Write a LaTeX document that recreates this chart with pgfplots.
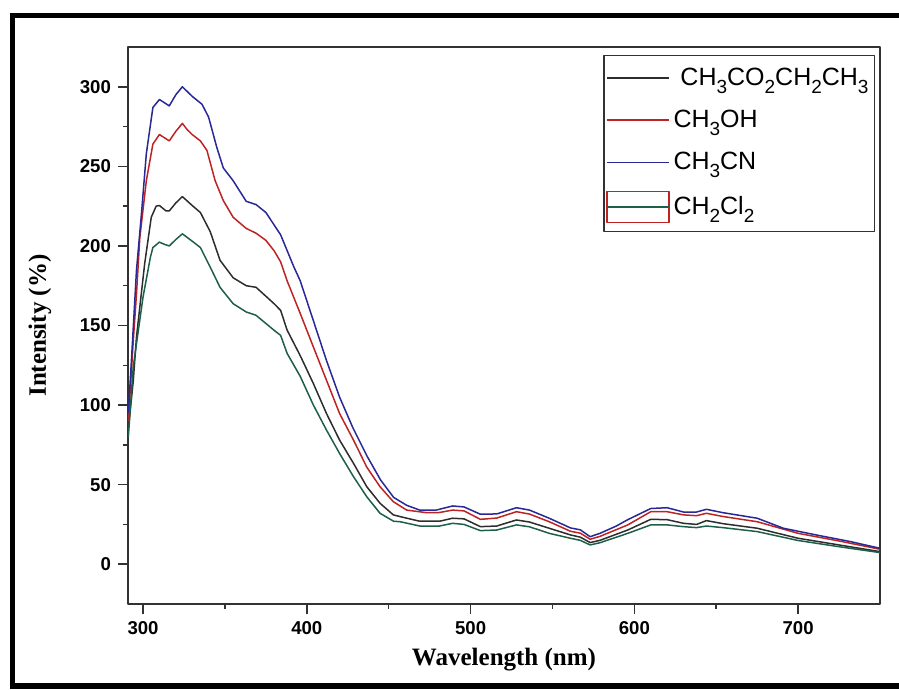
\documentclass[border=0pt]{standalone}
\usepackage{pgfplots}
\pgfplotsset{compat=1.18}
\usepackage{fontspec}
\setmainfont{Liberation Serif}
\newfontfamily\arial{Liberation Sans}
\definecolor{cblue}{RGB}{40,40,150}
\definecolor{cred}{RGB}{190,35,35}
\definecolor{cblack}{RGB}{45,45,45}
\definecolor{cgreen}{RGB}{30,95,75}
\definecolor{axgray}{RGB}{50,50,50}
\newcommand\sub[1]{\raisebox{-4pt}{\fontsize{9.5}{10}\selectfont #1}}
\pgfplotsset{boxlegend/.style={legend image code/.code={\draw[cred, line width=0.75pt] (0pt,-7.75pt) rectangle (31pt,7.75pt); \draw[##1] (0pt,0pt) -- (31pt,0pt);}}}
\begin{document}
\begin{tikzpicture}[x=0.5pt,y=0.5pt]
\useasboundingbox (-128,-86) rectangle (771,604);
\begin{axis}[
  at={(0,0)}, anchor=south west,
  scale only axis, width=376pt, height=278.5pt,
  xmin=290.8, xmax=750, ymin=-25, ymax=325,
  xtick={300,400,500,600,700},
  ytick={0,50,100,150,200,250,300},
  minor x tick num=1, minor y tick num=1,
  tick pos=left, tick align=outside,
  major tick length=5pt, minor tick length=2.5pt,
  every tick/.style={axgray, line width=0.75pt},
  axis line style={axgray, line width=0.75pt},
  tick label style={font=\arial\bfseries\fontsize{9.3}{11}\selectfont},
  /pgf/number format/assume math mode=true,
  xlabel={\textbf{Wavelength (nm)}},
  ylabel={\textbf{Intensity (\%)}},
  label style={font=\fontsize{12.5}{15}\selectfont},
  xlabel style={at={(axis description cs:0.5,-0.1005)}, anchor=center},
  ylabel style={at={(axis description cs:-0.117,0.5)}, anchor=center},
  legend style={at={(axis description cs:0.632,0.986)}, anchor=north west,
    draw=axgray, line width=0.75pt, inner xsep=1pt, inner ysep=4pt,
    row sep=7pt, font=\arial\fontsize{12.5}{15}\selectfont},
  legend cell align=left,
  legend image code/.code={\draw[#1] (0pt,0pt) -- (31pt,0pt);},
  line join=round,
]
\addplot[cblack, line width=0.75pt] coordinates {
(291,85) (294,115) (296,143) (301,189) (305,218) (308,225) (310,225.4) (314,222) (316,222) (320,227) (324,231) (330,225.4) (335,221) (341,209) (347,191) (355,180) (363,175) (369,174) (380,163.7) (384,159.5) (388,147) (396,131) (404,113.5) (412,94.7) (420,78) (428.5,63.4) (436.6,48.7) (444.7,38.3) (452.8,31) (457,29.9) (469,27) (481,27) (489,28.9) (496,28.5) (506,23.6) (516,24) (528,27.8) (536,26.5) (548,22.6) (561,18.4) (567,17) (573,13.6) (579,15) (596,21.5) (610,28.2) (620,28) (630,25.7) (638,25) (644,27.4) (654,25.5) (675,22.6) (700,16.3) (725,12.1) (750,7.9)
};
\addlegendentry{~CH\sub{3}CO\sub{2}CH\sub{2}CH\sub{3}}
\addplot[cred, line width=0.75pt] coordinates {
(291,90) (294,140) (296,170) (298,205) (302,241) (306,264) (310,270) (313,268) (316,266) (320,272) (324,277) (327,273) (330,270) (335,266) (339,260) (344,241) (349,228.5) (355,218) (363,211) (369,208) (375,203.5) (380,197) (384,190) (388,178) (396,157.5) (404,136.5) (412,115.6) (420,94.7) (428.5,78) (436.6,61) (444.7,48.7) (452.8,39.3) (461,34) (473,32.4) (481,32.5) (489,34) (496,33.5) (506,28.2) (516,29) (528,33) (536,31.5) (548,26.7) (561,20.7) (567,19.5) (573,15.7) (579,17.5) (596,24.7) (610,33) (620,33) (630,31) (638,30.5) (644,32) (654,30) (675,26.7) (700,19.4) (725,14.6) (750,9.4)
};
\addlegendentry{CH\sub{3}OH}
\addplot[cblue, line width=0.75pt] coordinates {
(291,95) (293,130) (296,185) (299,220) (302,258) (306,287) (310,292) (313,290) (316,288) (320,295) (324,300) (327,297) (330,294) (336,289) (340,281) (345,262) (349,249) (355,241) (363,228) (369,226) (375,221) (384,207) (392,187) (396,178) (404,153) (412,128) (420,105) (428,86) (437,67.5) (445,53) (453,42) (461,37) (469,34) (479,34) (489,36.6) (496,36) (506,31.4) (516,31.6) (528,35.5) (536,34) (548,28.9) (561,22.8) (567,21.6) (573,17.3) (579,19.4) (589,24) (596,28) (610,35) (620,35.5) (630,32.8) (638,32.8) (644,34.5) (654,32.4) (675,28.9) (691,22.6) (711,18.4) (732,14.2) (750,10)
};
\addlegendentry{CH\sub{3}CN}
\addplot[cgreen, line width=0.75pt, boxlegend] coordinates {
(291,80) (294,124) (300,168) (304.5,193) (306,199) (310,202.4) (313,201) (316,200) (320,204) (324,207.6) (330,203) (335,199) (341,186.7) (347,174) (355,163.7) (363,158.5) (369,156.4) (380,147) (384,143.8) (388,132.4) (396,118) (404,100) (412,84.3) (420,69.6) (428.5,55) (436.6,42.4) (444.7,32) (453,27) (457,26.7) (469,24) (481,24) (489,25.7) (496,25) (506,21.1) (516,21.5) (528,24.7) (536,23.5) (548,19.4) (561,16.3) (567,15) (573,12.1) (579,13.5) (596,19.4) (610,24.7) (620,24.7) (630,23.6) (638,23) (644,24) (654,23) (675,20.5) (700,14.9) (725,11) (750,7.3)
};
\addlegendentry{CH\sub{2}Cl\sub{2}}
\end{axis}
\draw[line width=2.75pt] (-115.5,-82) rectangle (778,588.5);
\end{tikzpicture}
\end{document}
